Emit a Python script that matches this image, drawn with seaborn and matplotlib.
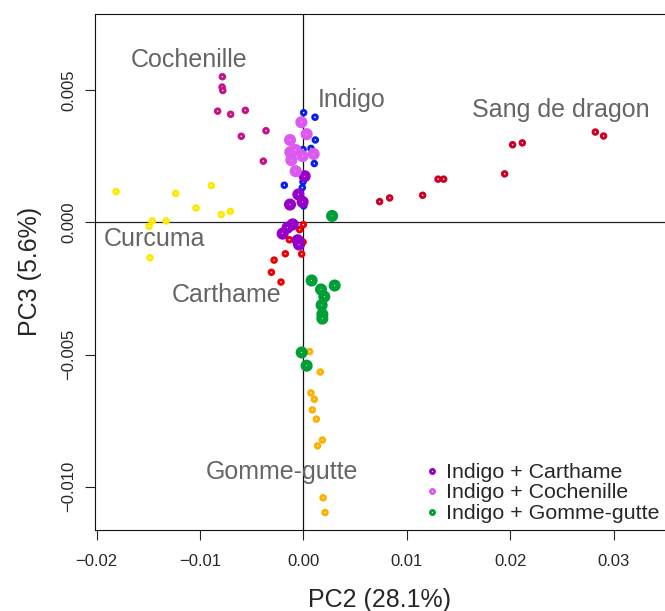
import matplotlib
matplotlib.use("Agg")
import matplotlib.pyplot as plt
from matplotlib.lines import Line2D
import numpy as np
import pandas as pd
import seaborn as sns

sns.set_style("white")
plt.rcParams["font.family"] = ["Liberation Sans", "DejaVu Sans"]

# PCA scores (PC2, PC3) of the reference pigments
cochenille_pc2 = [-0.00783, -0.00786, -0.00779, -0.00829, -0.00703, -0.00561, -0.00600, -0.00361, -0.00387]
cochenille_pc3 = [0.00550, 0.00511, 0.00498, 0.00420, 0.00408, 0.00423, 0.00325, 0.00346, 0.00231]

indigo_pc2 = [0.00003, 0.00113, 0.00116, -0.00003, 0.00074, 0.00106, -0.00184, -0.00003, -0.00010, 0.00000, 0.00003]
indigo_pc3 = [0.00414, 0.00397, 0.00311, 0.00275, 0.00279, 0.00222, 0.00140, 0.00153, 0.00131, 0.00083, 0.00062]

carthame_pc2 = [0.00000, -0.00036, -0.00135, -0.00003, -0.00174, -0.00016, -0.00283, -0.00309, -0.00216]
carthame_pc3 = [-0.00009, -0.00028, -0.00066, -0.00075, -0.00119, -0.00120, -0.00143, -0.00189, -0.00226]

gomme_pc2 = [0.00061, 0.00164, 0.00074, 0.00106, 0.00087, 0.00126, 0.00184, 0.00138, 0.00191, 0.00210]
gomme_pc3 = [-0.00489, -0.00566, -0.00645, -0.00669, -0.00709, -0.00744, -0.00823, -0.00845, -0.01041, -0.01097]

curcuma_pc2 = [-0.01811, -0.01235, -0.00890, -0.01038, -0.00793, -0.00706, -0.01460, -0.01492, -0.01328, -0.01483]
curcuma_pc3 = [0.00116, 0.00109, 0.00139, 0.00054, 0.00029, 0.00041, 0.00005, -0.00015, 0.00005, -0.00134]

sang_pc2 = [0.00738, 0.00835, 0.01154, 0.01303, 0.01357, 0.01947, 0.02024, 0.02118, 0.02824, 0.02904]
sang_pc3 = [0.00078, 0.00092, 0.00102, 0.00163, 0.00163, 0.00183, 0.00293, 0.00300, 0.00341, 0.00326]

# PCA scores of the indigo mixtures
ind_carthame_pc2 = [0.00013, -0.00048, -0.00007, -0.00129, -0.00103, -0.00152, -0.00200, -0.00055, -0.00042]
ind_carthame_pc3 = [0.00174, 0.00105, 0.00077, 0.00067, -0.00008, -0.00020, -0.00043, -0.00068, -0.00084]

ind_cochenille_pc2 = [-0.00019, 0.00032, -0.00129, -0.00126, -0.00074, -0.00007, 0.00100, -0.00116, -0.00074]
ind_cochenille_pc3 = [0.00378, 0.00333, 0.00311, 0.00265, 0.00273, 0.00250, 0.00258, 0.00235, 0.00193]

ind_gomme_pc2 = [0.00278, 0.00080, 0.00171, 0.00303, 0.00203, 0.00177, 0.00184, 0.00184, -0.00016, 0.00032]
ind_gomme_pc3 = [0.00024, -0.00220, -0.00254, -0.00239, -0.00281, -0.00313, -0.00348, -0.00364, -0.00492, -0.00542]

pure_names = ["Cochenille", "Indigo", "Carthame", "Gomme-gutte", "Curcuma", "Sang de dragon"]
pure_pc2 = [cochenille_pc2, indigo_pc2, carthame_pc2, gomme_pc2, curcuma_pc2, sang_pc2]
pure_pc3 = [cochenille_pc3, indigo_pc3, carthame_pc3, gomme_pc3, curcuma_pc3, sang_pc3]
pure_colors = ["#C8108A", "#0A1EF0", "#F00000", "#FFAF00", "#FFE800", "#CC0022"]

mix_names = ["Indigo + Carthame", "Indigo + Cochenille", "Indigo + Gomme-gutte"]
mix_pc2 = [ind_carthame_pc2, ind_cochenille_pc2, ind_gomme_pc2]
mix_pc3 = [ind_carthame_pc3, ind_cochenille_pc3, ind_gomme_pc3]
mix_colors = ["#9600C8", "#DC5AF0", "#00A037"]

# Pigment name annotations
label_names = ["Cochenille", "Indigo", "Sang de dragon", "Curcuma", "Carthame", "Gomme-gutte"]
label_xy = [(-0.01103, 0.00614), (0.00464, 0.00462), (0.02495, 0.00424),
            (-0.01441, -0.00064), (-0.00745, -0.00273), (-0.00203, -0.00943)]


def to_frame(names, xs, ys):
    rows = []
    for n, x, y in zip(names, xs, ys):
        rows.append(pd.DataFrame({"PC2": x, "PC3": y, "group": n}))
    return pd.concat(rows, ignore_index=True)


pure_df = to_frame(pure_names, pure_pc2, pure_pc3)
mix_df = to_frame(mix_names, mix_pc2, mix_pc3)

fig = plt.figure(figsize=(6.65, 6.11), dpi=100)
ax = fig.add_axes([95 / 665, 81 / 611, 1 - 95 / 665, (530 - 13.5) / 611])


def ring_scatter(df, names, colors, size_pt, lw_pt):
    before = len(ax.collections)
    sns.scatterplot(data=df, x="PC2", y="PC3", hue="group", hue_order=names,
                    palette=dict(zip(names, colors)), s=size_pt ** 2,
                    linewidth=0, legend=False, ax=ax, zorder=3)
    for coll in ax.collections[before:]:
        fc = coll.get_facecolors()
        coll.set_edgecolors(fc)
        coll.set_facecolors("white")
        coll.set_linewidths(lw_pt)


ax.axhline(0, color="#222222", lw=0.9, zorder=1)
ax.axvline(0, color="#111111", lw=0.9, zorder=1)

ring_scatter(pure_df, pure_names, pure_colors, 3.3, 2.1)
ring_scatter(mix_df, mix_names, mix_colors, 4.8, 3.9)

for name, (x, y) in zip(label_names, label_xy):
    ax.text(x, y, name, fontsize=18, color="#656565", ha="center", va="center", zorder=4)

ax.set_xlim(-0.02015, 0.03498)
ax.set_ylim(-0.01163, 0.00789)
ax.set_xticks([-0.02, -0.01, 0.0, 0.01, 0.02, 0.03])
ax.set_xticklabels(["\u22120.02", "\u22120.01", "0.00", "0.01", "0.02", "0.03"])
ax.set_yticks([-0.010, -0.005, 0.0, 0.005])
ax.set_yticklabels(["\u22120.010", "\u22120.005", "0.000", "0.005"],
                   rotation=90, va="center")
ax.tick_params(axis="both", direction="out", length=7.2, width=0.8, color="#222222",
               labelsize=12, pad=6, left=True, bottom=True)
ax.tick_params(axis="x", pad=10)
for side in ["left", "bottom", "top"]:
    ax.spines[side].set_color("#111111")
    ax.spines[side].set_linewidth(0.8)
ax.spines["right"].set_visible(False)

ax.set_xlabel("PC2 (28.1%)", fontsize=18, labelpad=14)
ax.set_ylabel("PC3 (5.6%)", fontsize=18, labelpad=14)

handles = [Line2D([], [], linestyle="", marker="o", markersize=3.0, markeredgewidth=2.0,
                  markerfacecolor="white", markeredgecolor=c) for c in mix_colors]
ax.legend(handles, mix_names, loc="upper left", bbox_to_anchor=(426 / 665, 1 - 463 / 611),
          bbox_transform=fig.transFigure, frameon=False, fontsize=15.4,
          handlelength=0.6, handletextpad=0.35, labelspacing=0.07, borderpad=0,
          borderaxespad=0)

fig.savefig("out.png", dpi=100)
